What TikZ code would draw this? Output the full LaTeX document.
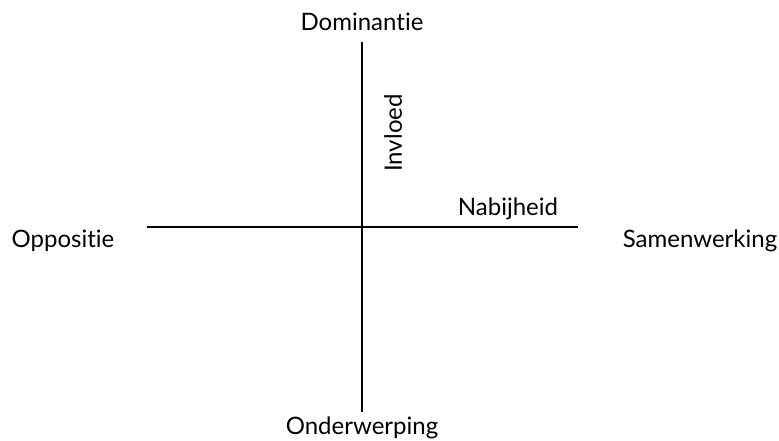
\documentclass[tikz,border=0pt]{standalone}
\usepackage{fontspec}
\setmainfont[Ligatures={NoCommon}]{Lato}
\begin{document}
\begin{tikzpicture}[x=1pt,y=-1pt,
  lbl/.style={font=\fontsize{24}{28}\selectfont, inner sep=0pt},
  axis/.style={line width=1.5pt}]
\useasboundingbox (0,0) rectangle (779,441);
\coordinate (top) at (362,42);
\coordinate (bot) at (362,412);
\coordinate (left) at (147,227);
\coordinate (right) at (578,227);
\draw[axis] (top) -- (bot);
\draw[axis] (left) -- (right);
\node[lbl] (dom) at (362,22) {Dominantie};
\node[lbl] (ond) at (362,428) {Onderwerping};
\node[lbl] (opp) at (63,241) {Oppositie};
\node[lbl] (sam) at (700,241) {Samenwerking};
\node[lbl, rotate=90] (inv) at (393,133) {Invloed};
\node[lbl] (nab) at (508,209) {Nabijheid};
\end{tikzpicture}
\end{document}
